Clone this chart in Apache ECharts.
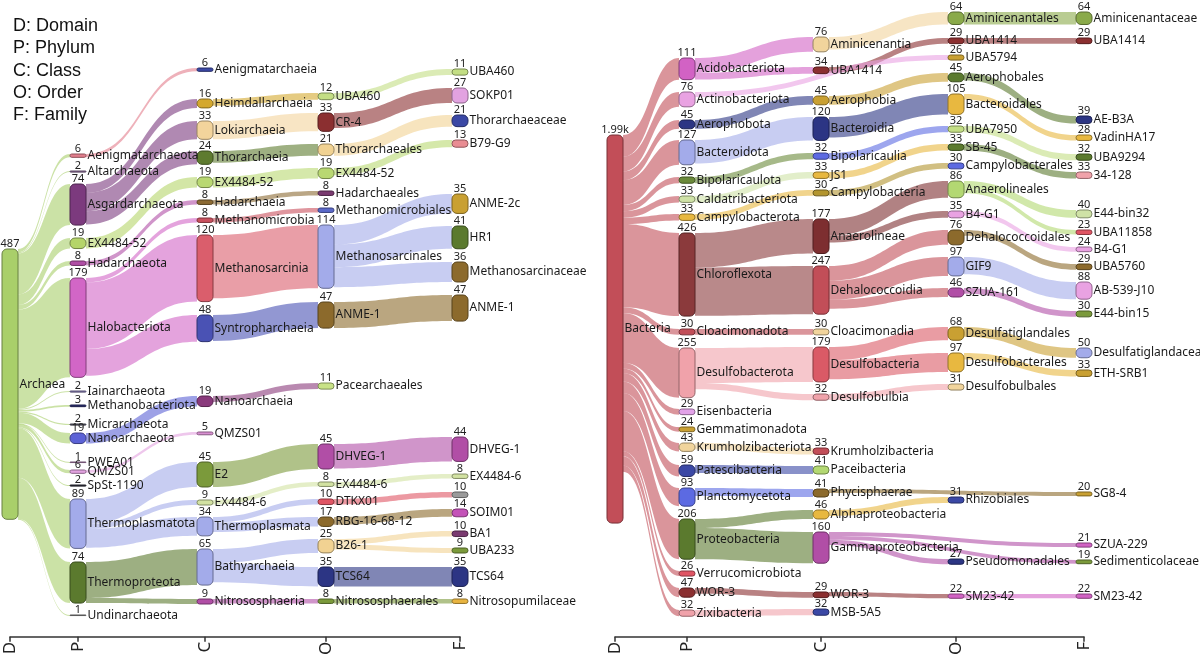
<!DOCTYPE html>
<html><head><meta charset="utf-8">
<script src="https://cdn.jsdelivr.net/npm/echarts@6/dist/echarts.min.js"></script>
<style>html,body{margin:0;padding:0;background:#fff}#c{width:1200px;height:658px}</style>
</head><body><div id="c"></div>
<script>
// ---------------- DATA ----------------
const levelLetters = ['D', 'P', 'C', 'O', 'F'];
const levelNames = ['Domain', 'Phylum', 'Class', 'Order', 'Family'];

// Archaea panel: taxon keys (level:name), counts, parent keys
const archaeaTaxa = [
  'D:Archaea',
  'P:Aenigmatarchaeota','P:Altarchaeota','P:Asgardarchaeota','P:EX4484-52','P:Hadarchaeota','P:Halobacteriota',
  'P:Iainarchaeota','P:Methanobacteriota','P:Micrarchaeota','P:Nanoarchaeota','P:PWEA01','P:QMZS01','P:SpSt-1190',
  'P:Thermoplasmatota','P:Thermoproteota','P:Undinarchaeota',
  'C:Aenigmatarchaeia','C:Heimdallarchaeia','C:Lokiarchaeia','C:Thorarchaeia','C:EX4484-52','C:Hadarchaeia',
  'C:Methanomicrobia','C:Methanosarcinia','C:Syntropharchaeia','C:Nanoarchaeia','C:QMZS01','C:E2','C:EX4484-6',
  'C:Thermoplasmata','C:Bathyarchaeia','C:Nitrososphaeria',
  'O:UBA460','O:CR-4','O:Thorarchaeales','O:EX4484-52','O:Hadarchaeales','O:Methanomicrobiales','O:Methanosarcinales',
  'O:ANME-1','O:Pacearchaeales','O:DHVEG-1','O:EX4484-6','O:DTKX01','O:RBG-16-68-12','O:B26-1','O:TCS64','O:Nitrososphaerales',
  'F:UBA460','F:SOKP01','F:Thorarchaeaceae','F:B79-G9','F:ANME-2c','F:HR1','F:Methanosarcinaceae','F:ANME-1',
  'F:DHVEG-1','F:EX4484-6','F:','F:SOIM01','F:BA1','F:UBA233','F:TCS64','F:Nitrosopumilaceae'
];
const archaeaCounts = [
  487,
  6,2,74,19,8,179,2,3,2,19,1,6,2,89,74,1,
  6,16,33,24,19,8,8,120,48,19,5,45,9,34,65,9,
  12,33,21,19,8,8,114,47,11,45,8,10,17,25,35,8,
  11,27,21,13,35,41,36,47,44,8,10,14,10,9,35,8
];
const archaeaParents = [
  null,
  'D:Archaea','D:Archaea','D:Archaea','D:Archaea','D:Archaea','D:Archaea','D:Archaea','D:Archaea',
  'D:Archaea','D:Archaea','D:Archaea','D:Archaea','D:Archaea','D:Archaea','D:Archaea','D:Archaea',
  'P:Aenigmatarchaeota','P:Asgardarchaeota','P:Asgardarchaeota','P:Asgardarchaeota','P:EX4484-52','P:Hadarchaeota',
  'P:Halobacteriota','P:Halobacteriota','P:Halobacteriota','P:Nanoarchaeota','P:QMZS01','P:Thermoplasmatota',
  'P:Thermoplasmatota','P:Thermoplasmatota','P:Thermoproteota','P:Thermoproteota',
  'C:Heimdallarchaeia','C:Lokiarchaeia','C:Thorarchaeia','C:EX4484-52','C:Hadarchaeia','C:Methanomicrobia',
  'C:Methanosarcinia','C:Syntropharchaeia','C:Nanoarchaeia','C:E2','C:EX4484-6','C:Thermoplasmata','C:Thermoplasmata',
  'C:Bathyarchaeia','C:Bathyarchaeia','C:Nitrososphaeria',
  'O:UBA460','O:CR-4','O:Thorarchaeales','O:EX4484-52','O:Methanosarcinales','O:Methanosarcinales','O:Methanosarcinales',
  'O:ANME-1','O:DHVEG-1','O:EX4484-6','O:DTKX01','O:RBG-16-68-12','O:B26-1','O:B26-1','O:TCS64','O:Nitrososphaerales'
];

// Bacteria panel
const bacteriaTaxa = [
  'D:Bacteria',
  'P:Acidobacteriota','P:Actinobacteriota','P:Aerophobota','P:Bacteroidota','P:Bipolaricaulota','P:Caldatribacteriota',
  'P:Campylobacterota','P:Chloroflexota','P:Cloacimonadota','P:Desulfobacterota','P:Eisenbacteria','P:Gemmatimonadota',
  'P:Krumholzibacteriota','P:Patescibacteria','P:Planctomycetota','P:Proteobacteria','P:Verrucomicrobiota','P:WOR-3','P:Zixibacteria',
  'C:Aminicenantia','C:UBA1414','C:Aerophobia','C:Bacteroidia','C:Bipolaricaulia','C:JS1','C:Campylobacteria',
  'C:Anaerolineae','C:Dehalococcoidia','C:Cloacimonadia','C:Desulfobacteria','C:Desulfobulbia','C:Krumholzibacteria',
  'C:Paceibacteria','C:Phycisphaerae','C:Alphaproteobacteria','C:Gammaproteobacteria','C:WOR-3','C:MSB-5A5',
  'O:Aminicenantales','O:UBA1414','O:UBA5794','O:Aerophobales','O:Bacteroidales','O:UBA7950','O:SB-45','O:Campylobacterales',
  'O:Anaerolineales','O:B4-G1','O:Dehalococcoidales','O:GIF9','O:SZUA-161','O:Desulfatiglandales','O:Desulfobacterales',
  'O:Desulfobulbales','O:Rhizobiales','O:Pseudomonadales','O:SM23-42',
  'F:Aminicenantaceae','F:UBA1414','F:AE-B3A','F:VadinHA17','F:UBA9294','F:34-128','F:E44-bin32','F:UBA11858','F:B4-G1',
  'F:UBA5760','F:AB-539-J10','F:E44-bin15','F:Desulfatiglandaceae','F:ETH-SRB1','F:SG8-4','F:SZUA-229','F:Sedimenticolaceae','F:SM23-42'
];
const bacteriaCounts = [
  1990,
  111,76,45,127,32,33,33,426,30,255,29,24,43,59,93,206,26,47,32,
  76,34,45,120,32,33,30,177,247,30,179,32,33,41,41,46,160,29,32,
  64,29,26,45,105,32,33,30,86,35,76,97,46,68,97,31,31,27,22,
  64,29,39,28,32,33,40,23,24,29,88,30,50,33,20,21,19,22
];
const bacteriaParents = [
  null,
  'D:Bacteria','D:Bacteria','D:Bacteria','D:Bacteria','D:Bacteria','D:Bacteria','D:Bacteria','D:Bacteria','D:Bacteria',
  'D:Bacteria','D:Bacteria','D:Bacteria','D:Bacteria','D:Bacteria','D:Bacteria','D:Bacteria','D:Bacteria','D:Bacteria','D:Bacteria',
  'P:Acidobacteriota','P:Acidobacteriota','P:Aerophobota','P:Bacteroidota','P:Bipolaricaulota','P:Caldatribacteriota',
  'P:Campylobacterota','P:Chloroflexota','P:Chloroflexota','P:Cloacimonadota','P:Desulfobacterota','P:Desulfobacterota',
  'P:Krumholzibacteriota','P:Patescibacteria','P:Planctomycetota','P:Proteobacteria','P:Proteobacteria','P:WOR-3','P:Zixibacteria',
  'C:Aminicenantia','C:UBA1414','P:Actinobacteriota','C:Aerophobia','C:Bacteroidia','C:Bipolaricaulia','C:JS1','C:Campylobacteria',
  'C:Anaerolineae','C:Anaerolineae','C:Dehalococcoidia','C:Dehalococcoidia','C:Dehalococcoidia','C:Desulfobacteria',
  'C:Desulfobacteria','C:Desulfobulbia','C:Alphaproteobacteria','C:Gammaproteobacteria','C:WOR-3',
  'O:Aminicenantales','O:UBA1414','O:Aerophobales','O:Bacteroidales','O:UBA7950','O:SB-45','O:Anaerolineales','O:Anaerolineales',
  'O:B4-G1','O:Dehalococcoidales','O:GIF9','O:SZUA-161','O:Desulfatiglandales','O:Desulfobacterales','C:Phycisphaerae',
  'C:Gammaproteobacteria','C:Gammaproteobacteria','O:SM23-42'
];

// ---------------- LAYOUT & STYLE ----------------
const H = 658, PANEL_W = 600, NODE_W = 16;
const archaeaColX = [2, 70, 197, 318, 452];
const bacteriaColX = [607, 679, 813, 948, 1076];
const archaeaScale = 0.555, bacteriaScale = 0.195; // px per count
const archaeaTops = [
  249,
  154,171,184,238,261,278,391,405,424,433,462,470,485,499,562,615,
  68,99,121,151,177,200,218,235,315,396,432,462,500,517,549,599,
  93,113,144,168,191,208,225,302,383,444,482,499,517,539,567,599,
  69,88,115,140,194,226,262,295,437,474,492,509,531,548,567,599
];
const archaeaColors = [
  '#a9cf6a',
  '#e27d8c','#8e6f9a','#7c3a7e','#b5d56a','#b14ea6','#d266c6','#8a80b8','#2b2f72','#5a5a6a','#5c62d6','#b584b8','#e2a2e0','#2e2e3a','#a3abea','#5b7a2e','#8c8c8c',
  '#3b48a5','#d4a82e','#f3d49c','#5e7b2f','#b9d872','#8c6a34','#c9505e','#da5e6c','#4a52b4','#8a3a7c','#d98fd2','#7b9a3b','#d2e2a2','#a3abea','#a3abea','#b14ea6',
  '#c3de84','#8b2f30','#f1d292','#b9d872','#7a3a70','#5a68c8','#a3abea','#8c6a2c','#c8e286','#b14ea6','#d2e2a2','#e05564','#8c6a2c','#f1d292','#2c3584','#7b9a3b',
  '#c3de84','#e2a2e0','#3b48a5','#e98d93','#c9a032','#5b7a2e','#8c6a2c','#8c6a2c','#b14ea6','#d2e2a2','#9a9a9a','#c452b8','#7a3a70','#7b9a3b','#2c3584','#e8b440'
];
const bacteriaTops = [
  135,
  58,92,120,140,177,196,214,233,329,348,409,427,443,465,488,519,571,588,610,
  37,67,96,117,153,172,190,219,266,329,347,394,448,466,489,510,532,592,609,
  12,38,55,73,94,126,144,163,181,211,230,257,288,327,353,384,497,559,594,
  12,38,116,135,154,172,210,230,247,264,282,311,348,370,492,543,560,594
];
const bacteriaColors = [
  '#c24e58',
  '#d262c4','#e9a2e2','#2c3584','#a3abea','#6b8a3a','#cfe2a6','#e8b840','#8b3a3c','#c24e58','#f0a2aa','#e2a2e8','#c9a032','#f1d49c','#3b48a5','#5c6ae2','#5b7a2e','#e05564','#8b2f30','#f0a2aa',
  '#f1d49c','#8b2f30','#c9a032','#2c3584','#5c6ae2','#e8b840','#b3952e','#7d2e30','#c24e58','#f1d49c','#da5a66','#f0a2aa','#c24e58','#b3d872','#8c6a2c','#e8b840','#b14ea6','#8b2f30','#3b48a5',
  '#8aaa4a','#8b2f30','#c9a032','#5b7a2e','#e8b840','#c3de84','#5b7a2e','#5c6ae2','#b3d872','#e9a2e2','#8c6a2c','#a3abea','#b14ea6','#c9a032','#e8b840','#f1d49c','#3b48a5','#2c3584','#d262c4',
  '#8aaa4a','#8b2f30','#2c3584','#e8b840','#5b7a2e','#f0a2aa','#cfe2a6','#e05564','#e9a2e2','#8c6a2c','#e9a2e2','#7b9a3b','#a3abea','#c9a032','#c9a032','#d262c4','#7b9a3b','#d262c4'
];

function shade(hex, f) {
  const n = parseInt(hex.slice(1), 16);
  return 'rgb(' + Math.round(((n >> 16) & 255) * f) + ',' + Math.round(((n >> 8) & 255) * f) + ',' + Math.round((n & 255) * f) + ')';
}
function levelOf(key) { return levelLetters.indexOf(key.split(':')[0]); }
function labelOf(key) { return key.slice(key.indexOf(':') + 1); }
function fmtCount(v) { return v >= 1000 ? (v / 1000).toFixed(2) + 'k' : String(v); }

function gapFor(taxa, counts, scale) {
  let g = Infinity;
  for (let d = 0; d < levelLetters.length; d++) {
    const vals = counts.filter((_, i) => levelOf(taxa[i]) === d);
    if (vals.length > 1) {
      const s = vals.reduce((a, b) => a + b, 0);
      g = Math.min(g, (H - scale * s) / (vals.length - 1));
    }
  }
  return g;
}

const FONT = 'Noto Sans';
function panelSeries(p, mode) {
  const nodes = p.taxa.map((key, i) => {
    const lv = levelOf(key);
    return {
      name: key, value: p.counts[i], depth: lv,
      localX: (p.colX[lv] - p.left) / PANEL_W,
      localY: p.tops[i] / H,
      itemStyle: mode === 'main'
        ? { color: p.colors[i], borderColor: shade(p.colors[i], 0.62), borderWidth: 1, borderRadius: 5, opacity: 1 }
        : { color: 'rgba(0,0,0,0)', borderWidth: 0 }
    };
  });
  const links = [];
  p.taxa.forEach((key, i) => {
    if (p.parents[i]) links.push({ source: p.parents[i], target: key, value: p.counts[i] });
  });
  return {
    type: 'sankey', left: p.left, top: 0, width: PANEL_W, height: H,
    nodeWidth: NODE_W, nodeGap: gapFor(p.taxa, p.counts, p.scale),
    layoutIterations: 0, nodeAlign: 'justify', draggable: false,
    data: nodes, links: links,
    silent: mode !== 'main',
    z: mode === 'main' ? 2 : 3,
    emphasis: { disabled: true },
    lineStyle: mode === 'main' ? { color: 'source', opacity: 0.6, curveness: 0.5 } : { opacity: 0 },
    label: mode === 'main'
      ? { show: true, position: 'right', distance: 1, fontFamily: FONT, fontSize: 12, color: '#1a1a1a',
          formatter: (q) => labelOf(q.name) }
      : { show: true, position: 'top', distance: 0, fontFamily: FONT, fontSize: 11, color: '#222',
          formatter: (q) => fmtCount(q.value) }
  };
}

const panels = [
  { taxa: archaeaTaxa, counts: archaeaCounts, parents: archaeaParents, tops: archaeaTops, colors: archaeaColors, colX: archaeaColX, left: 0, scale: archaeaScale },
  { taxa: bacteriaTaxa, counts: bacteriaCounts, parents: bacteriaParents, tops: bacteriaTops, colors: bacteriaColors, colX: bacteriaColX, left: 600, scale: bacteriaScale }
];

const grids = [], xAxes = [], yAxes = [];
panels.forEach((p, k) => {
  const centers = p.colX.map(x => x + NODE_W / 2);
  const start = centers[0], span = centers[centers.length - 1] - start;
  const ticks = centers.map(c => c - start);
  grids.push({ left: start, width: span, bottom: 21, height: 10 });
  xAxes.push({
    type: 'value', gridIndex: k, min: 0, max: span, position: 'bottom',
    axisLine: { show: true, lineStyle: { color: '#333', width: 1.5 } },
    axisTick: { show: true, customValues: ticks, length: 5, lineStyle: { color: '#333', width: 1.5 } },
    axisLabel: { show: true, customValues: ticks, rotate: 90, margin: 5, fontSize: 17, color: '#222', fontFamily: FONT,
      formatter: (v) => levelLetters[ticks.indexOf(v)] },
    splitLine: { show: false }
  });
  yAxes.push({ type: 'value', gridIndex: k, show: false });
});

const chart = echarts.init(document.getElementById('c'), null, { renderer: 'canvas' });
chart.setOption({
  backgroundColor: '#fff',
  animation: false,
  title: {
    text: levelLetters.map((l, i) => l + ': ' + levelNames[i]).join('\n'),
    left: 8, top: 10,
    textStyle: { fontFamily: 'Liberation Sans', fontSize: 18, fontWeight: 'normal', lineHeight: 22.3, color: '#111' }
  },
  grid: grids, xAxis: xAxes, yAxis: yAxes,
  series: [
    panelSeries(panels[0], 'main'), panelSeries(panels[0], 'value'),
    panelSeries(panels[1], 'main'), panelSeries(panels[1], 'value')
  ]
});
</script></body></html>
